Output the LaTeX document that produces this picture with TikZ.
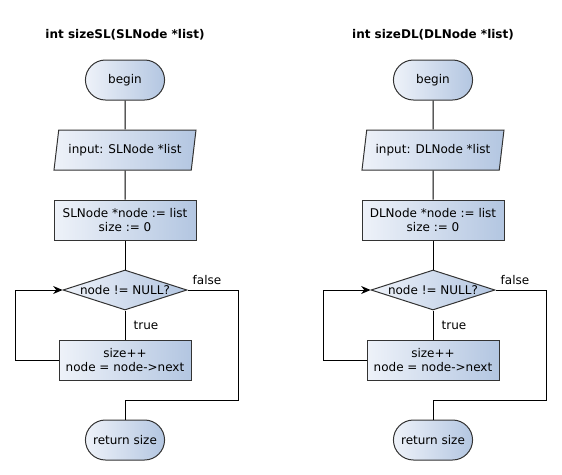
\documentclass[tikz,border=0pt]{standalone}
\usepackage{fontspec}
\setmainfont{DejaVu Sans}
\usetikzlibrary{shapes.geometric,shapes.misc,arrows.meta}

\definecolor{flowlight}{HTML}{EEF2F9}
\definecolor{flowdark}{HTML}{B3C6E1}
\definecolor{flowline}{HTML}{333333}

\tikzset{every picture/.style={line width=0.75pt}}
\tikzset{
  every node/.style={font=\fontsize{9}{11}\selectfont},
  flowfill/.style={draw=flowline, left color=flowlight, right color=flowdark, align=center},
  terminal/.style={flowfill, rounded rectangle, minimum width=66pt, minimum height=30pt},
  inout/.style={flowfill, trapezium, trapezium left angle=77, trapezium right angle=103,
    trapezium stretches body=true, minimum width=106.5pt, minimum height=30pt},
  process/.style={flowfill, rectangle, minimum width=106.5pt, minimum height=30pt},
  decision/.style={flowfill, diamond, aspect=3, inner sep=0pt, minimum width=93pt, minimum height=30pt},
}

\begin{document}
\begin{tikzpicture}[x=0.75pt,y=0.75pt,yscale=-1,xscale=1]

\useasboundingbox (0,0) rectangle (562,475);

\foreach \x/\t in {125/SL, 433/DL} {

\draw (\x,35) node [font=\fontsize{9}{11}\selectfont\bfseries] (title\t) {int size\t(\t Node *list)};

\draw (\x,80) node [terminal] (begin\t) {begin};
\draw (\x,150) node [inout] (input\t) {input: \t Node *list};
\draw (\x,220) node [process] (init\t) {\t Node *node := list\\size := 0};
\draw (\x,290) node [decision] (test\t) {node != NULL?};
\draw (\x,360) node [process, minimum width=99pt] (body\t) {size++\\node = node->next};
\draw (\x,440) node [terminal] (end\t) {return size};

\coordinate (back\t) at (\x-110,360);
\coordinate (turn\t) at (\x+113,400);

\draw (begin\t) -- (input\t) ;
\draw (input\t) -- (init\t) ;
\draw (init\t) -- (test\t) ;
\draw (test\t) -- (body\t) ;
\draw [-{Stealth[length=7pt,width=6pt]}] (body\t.west) -- (back\t) |- (test\t.west) ;
\draw (test\t.east) -| (turn\t) -| (end\t.north) ;

\draw (\x+82,280) node (false\t) {false};
\draw (\x+21,325) node (true\t) {true};
}

\end{tikzpicture}
\end{document}
